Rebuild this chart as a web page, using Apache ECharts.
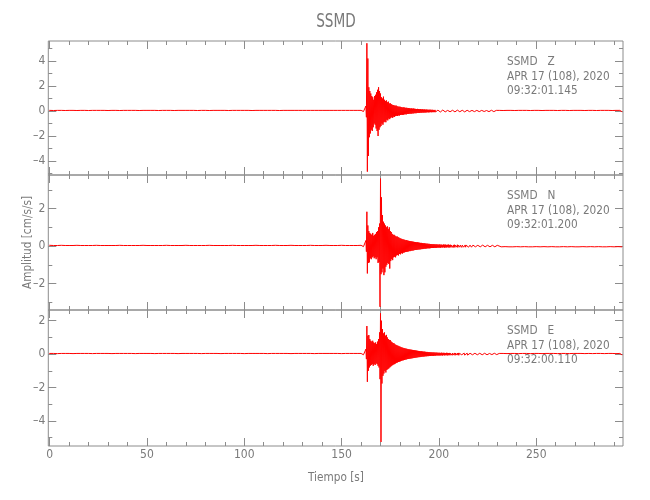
<!DOCTYPE html>
<html><head><meta charset="utf-8">
<script src="https://cdn.jsdelivr.net/npm/echarts@6.0.0/dist/echarts.min.js"></script>
<style>html,body{margin:0;padding:0;background:#fff}#c{width:650px;height:500px}</style>
</head><body><div id="c"></div>
<script>
// ---------------- data ----------------
const TITLE = 'SSMD';
const STATION = 'SSMD';
const CHANNELS = ['Z', 'N', 'E'];
const DATE_LINE = 'APR 17 (108), 2020';
const START_TIMES = ['09:32:01.145', '09:32:01.200', '09:32:00.110'];
const X_LABEL = 'Tiempo [s]';
const Y_LABEL = 'Amplitud [cm/s/s]';

const X_TICKS = [0, 50, 100, 150, 200, 250];
const X_MINOR = [0,10,20,30,40,50,60,70,80,90,100,110,120,130,140,150,160,170,180,190,200,210,220,230,240,250,260,270,280,290];
const Y_TICKS = [[-4,-2,0,2,4], [-2,0,2], [-4,-2,0,2]];
const Y_MINOR = [[-5,-4,-3,-2,-1,0,1,2,3,4,5], [-3,-2,-1,0,1,2,3], [-5,-4,-3,-2,-1,0,1,2]];
const Y_RANGE = [[-5.12, 5.6], [-3.41, 3.79], [-5.5, 2.64]];
const X_RANGE = [-0.7, 294.6];

// pre-event noise envelope (half-width), one value every 2 s from 0 s
const PRE_Z = [0.05,0.04,0.05,0.05,0.04,0.05,0.05,0.04,0.05,0.05, 0.04,0.05,0.05,0.05,0.05,0.04,0.05,0.05,0.04,0.05, 0.05,0.05,0.05,0.04,0.05,0.05,0.05,0.05,0.04,0.05, 0.05,0.05,0.04,0.05,0.05,0.05,0.05,0.05,0.04,0.05, 0.05,0.04,0.05,0.05,0.05,0.05,0.04,0.05,0.05,0.05, 0.05,0.05,0.04,0.05,0.05,0.05,0.05,0.05,0.05,0.04, 0.05,0.05,0.05,0.05,0.05,0.05,0.05,0.05,0.05,0.05, 0.05,0.05,0.05,0.05,0.05,0.05,0.05,0.05,0.05,0.05];
const PRE_N = [0.04,0.03,0.03,0.04,0.03,0.03,0.03,0.04,0.03,0.03, 0.03,0.03,0.04,0.03,0.03,0.03,0.03,0.03,0.04,0.03, 0.03,0.03,0.03,0.03,0.04,0.03,0.03,0.03,0.03,0.03, 0.04,0.03,0.03,0.03,0.03,0.04,0.03,0.03,0.03,0.03, 0.03,0.04,0.03,0.03,0.03,0.03,0.03,0.04,0.03,0.03, 0.03,0.03,0.03,0.04,0.03,0.03,0.03,0.03,0.04,0.03, 0.03,0.03,0.04,0.03,0.03,0.03,0.03,0.04,0.03,0.03, 0.03,0.04,0.03,0.03,0.03,0.04,0.03,0.03,0.03,0.03];
const PRE_E = [0.04,0.04,0.03,0.04,0.04,0.04,0.03,0.04,0.04,0.04, 0.04,0.03,0.04,0.04,0.04,0.04,0.03,0.04,0.04,0.04, 0.04,0.04,0.03,0.04,0.04,0.04,0.04,0.03,0.04,0.04, 0.04,0.04,0.04,0.03,0.04,0.04,0.04,0.04,0.04,0.03, 0.04,0.04,0.04,0.04,0.03,0.04,0.04,0.04,0.04,0.04, 0.03,0.04,0.04,0.04,0.04,0.04,0.03,0.04,0.04,0.04, 0.04,0.04,0.03,0.04,0.04,0.04,0.04,0.04,0.03,0.04, 0.04,0.04,0.04,0.04,0.04,0.03,0.04,0.04,0.04,0.04];

// active window envelope, one bin every 0.5 s from 160 s to 200 s (upper / lower)
const Z_UP = [0.05,0.04,0.05,0.05,0.06, 0.4,5.42,4.2,1.9,1.6, 1.4,1.2,1.1,0.9,1.2, 1.3,1.5,1.7,1.9,1.6, 1.4,1.1,1.0,1.15,0.9, 0.8,0.85,0.7,0.75,0.6, 0.62,0.55,0.5,0.48,0.45, 0.42,0.44,0.38,0.36,0.34, 0.35,0.32,0.3,0.28,0.3, 0.27,0.25,0.26,0.23,0.24, 0.22,0.2,0.21,0.19,0.2, 0.18,0.17,0.16,0.17,0.15, 0.14,0.15,0.13,0.14,0.12, 0.13,0.11,0.12,0.11,0.1, 0.1,0.11,0.09,0.1,0.09, 0.08,0.09,0.08,0.08,0.07, 0.08];
const Z_LO = [-0.05,-0.05,-0.04,-0.06,-0.05, -0.5,-4.85,-3.6,-2.1,-1.8, -1.5,-1.6,-1.3,-1.0,-1.1, -1.4,-1.6,-2.0,-1.5,-1.3, -1.2,-1.0,-1.1,-0.9,-0.85, -0.9,-0.7,-0.75,-0.6,-0.65, -0.55,-0.5,-0.55,-0.45,-0.48, -0.4,-0.38,-0.4,-0.35,-0.36, -0.32,-0.3,-0.31,-0.3,-0.27, -0.26,-0.27,-0.24,-0.24,-0.22, -0.21,-0.22,-0.19,-0.2,-0.18, -0.17,-0.18,-0.16,-0.15,-0.16, -0.15,-0.13,-0.14,-0.12,-0.13, -0.12,-0.12,-0.11,-0.1,-0.11, -0.1,-0.09,-0.1,-0.09,-0.09, -0.09,-0.08,-0.08,-0.07,-0.08, -0.07];
const N_UP = [0.04,0.03,0.04,0.03,0.04, 0.3,1.83,1.1,0.8,0.7, 0.65,0.6,0.7,0.55,0.6, 0.65,0.75,0.8,1.0,1.2, 3.6,2.6,1.65,1.3,1.2, 1.1,1.0,1.05,0.9,1.0, 0.8,0.75,0.65,0.6,0.6, 0.55,0.5,0.52,0.48,0.45, 0.42,0.4,0.38,0.36,0.35, 0.33,0.31,0.32,0.29,0.28, 0.27,0.26,0.25,0.24,0.23, 0.22,0.21,0.2,0.2,0.19, 0.18,0.17,0.17,0.16,0.15, 0.15,0.14,0.13,0.13,0.12, 0.12,0.11,0.11,0.1,0.1, 0.1,0.09,0.09,0.09,0.08, 0.08];
const N_LO = [-0.03,-0.04,-0.03,-0.04,-0.03, -0.3,-1.46,-0.9,-0.87,-0.65, -0.7,-0.6,-0.55,-0.65,-0.6, -0.7,-0.6,-0.9,-0.85,-3.24, -1.5,-1.4,-1.2,-1.55,-1.4, -1.1,-1.0,-0.9,-0.95,-1.2, -0.8,-0.7,-0.75,-0.6,-0.57, -0.6,-0.5,-0.48,-0.5,-0.42, -0.44,-0.38,-0.4,-0.35,-0.34, -0.32,-0.31,-0.3,-0.29,-0.27, -0.27,-0.25,-0.24,-0.24,-0.22, -0.21,-0.21,-0.2,-0.19,-0.18, -0.18,-0.17,-0.16,-0.16,-0.15, -0.14,-0.14,-0.13,-0.12,-0.12, -0.12,-0.11,-0.1,-0.1,-0.1, -0.09,-0.09,-0.09,-0.08,-0.08, -0.08];
const E_UP = [0.04,0.04,0.03,0.04,0.04, 0.3,1.68,1.1,1.14,0.9, 0.8,0.75,0.8,0.7,0.65, 0.7,0.6,0.75,0.9,1.3, 2.44,2.0,1.5,1.24,1.3, 1.1,1.15,1.0,0.9,0.85, 0.84,0.75,0.7,0.66,0.64, 0.58,0.55,0.52,0.5,0.47, 0.45,0.42,0.4,0.38,0.36, 0.35,0.33,0.32,0.3,0.29, 0.28,0.27,0.26,0.25,0.24, 0.23,0.22,0.21,0.2,0.19, 0.18,0.17,0.17,0.16,0.15, 0.15,0.14,0.13,0.13,0.12, 0.12,0.11,0.11,0.1,0.1, 0.1,0.09,0.09,0.09,0.08, 0.08];
const E_LO = [-0.04,-0.03,-0.04,-0.04,-0.04, -0.3,-1.66,-1.0,-0.8,-0.7, -0.65,-0.6,-0.7,-0.6,-0.65, -0.55,-0.6,-0.7,-0.8,-1.5, -5.26,-1.76,-1.3,-1.16,-1.0, -1.1,-0.95,-0.9,-0.86,-0.8, -0.75,-0.7,-0.66,-0.62,-0.6, -0.56,-0.52,-0.5,-0.47,-0.45, -0.43,-0.4,-0.38,-0.37,-0.35, -0.33,-0.32,-0.3,-0.29,-0.28, -0.27,-0.26,-0.25,-0.24,-0.23, -0.22,-0.21,-0.2,-0.19,-0.18, -0.18,-0.17,-0.16,-0.15,-0.15, -0.14,-0.13,-0.13,-0.12,-0.12, -0.11,-0.11,-0.1,-0.1,-0.1, -0.09,-0.09,-0.08,-0.08,-0.08, -0.08];

// early coda envelope (half-width), one value every 0.5 s from 200.5 s
const CODA_Z = [0.08,0.06,0.07,0.08,0.05,0.07,0.06,0.08,0.05,0.07, 0.06,0.05,0.07,0.06,0.05,0.07,0.04,0.06,0.07,0.05, 0.06,0.05,0.04,0.06,0.05,0.07,0.05,0.04,0.06,0.05, 0.05,0.06,0.04,0.05,0.06,0.05,0.04,0.06,0.05,0.04, 0.05,0.06,0.04,0.05,0.05,0.04,0.06,0.05,0.04,0.05, 0.05,0.04,0.05,0.06,0.04,0.05,0.04,0.05,0.05,0.04];
const CODA_N = [0.09,0.07,0.08,0.06,0.09,0.07,0.08,0.06,0.07,0.08, 0.06,0.07,0.05,0.08,0.06,0.07,0.05,0.06,0.07,0.05, 0.06,0.05,0.07,0.05,0.06,0.04,0.06,0.05,0.05,0.06, 0.04,0.05,0.06,0.04,0.05,0.05,0.04,0.05,0.06,0.04, 0.05,0.04,0.05,0.04,0.05,0.04,0.04,0.05,0.04,0.04, 0.05,0.04,0.04,0.03,0.04,0.05,0.04,0.03,0.04,0.04];
const CODA_E = [0.08,0.07,0.09,0.06,0.08,0.07,0.06,0.08,0.07,0.06, 0.07,0.05,0.07,0.06,0.05,0.07,0.06,0.05,0.06,0.07, 0.05,0.06,0.04,0.06,0.05,0.06,0.04,0.05,0.06,0.05, 0.04,0.05,0.06,0.04,0.05,0.04,0.05,0.05,0.04,0.05, 0.04,0.05,0.04,0.04,0.05,0.04,0.05,0.04,0.04,0.05, 0.04,0.04,0.05,0.03,0.04,0.04,0.05,0.04,0.03,0.04];
// late noise envelope (half-width), one value every 2 s from 231 s
const TAIL_Z = [0.05,0.04,0.05,0.05,0.04,0.05,0.05,0.05,0.04,0.05, 0.05,0.04,0.05,0.05,0.05,0.04,0.05,0.05,0.04,0.05, 0.05,0.05,0.04,0.05,0.05,0.04,0.05,0.05,0.05,0.04, 0.05,0.05];
const TAIL_N = [0.04,0.03,0.04,0.04,0.03,0.04,0.03,0.04,0.04,0.03, 0.04,0.03,0.04,0.03,0.04,0.04,0.03,0.04,0.03,0.04, 0.04,0.03,0.04,0.03,0.04,0.03,0.04,0.04,0.03,0.04, 0.03,0.04];
const TAIL_E = [0.04,0.04,0.03,0.04,0.04,0.03,0.04,0.04,0.03,0.04, 0.04,0.03,0.04,0.04,0.04,0.03,0.04,0.04,0.03,0.04, 0.04,0.04,0.03,0.04,0.03,0.04,0.04,0.03,0.04,0.04, 0.03,0.04];

const PRE_T0 = 0, PRE_DT = 2;
const ACT_T0 = 160, ACT_DT = 0.5;
const CODA_T0 = 200.5, CODA_DT = 0.5;
const TAIL_T0 = 231, TAIL_DT = 2;

// ---------------- build ----------------
function pushSym(pts, arr, t0, dt) {
  arr.forEach((a, i) => { const t = t0 + i * dt; pts.push([t, a]); pts.push([t + dt / 2, -a]); });
}
function buildTrace(pre, up, lo, coda, tail) {
  const pts = [];
  pushSym(pts, pre, PRE_T0, PRE_DT);
  up.forEach((u, i) => { const t = ACT_T0 + i * ACT_DT; pts.push([t, u]); pts.push([t + ACT_DT / 2, lo[i]]); });
  pushSym(pts, coda, CODA_T0, CODA_DT);
  pushSym(pts, tail, TAIL_T0, TAIL_DT);
  return pts;
}
const TRACES = [
  buildTrace(PRE_Z, Z_UP, Z_LO, CODA_Z, TAIL_Z),
  buildTrace(PRE_N, N_UP, N_LO, CODA_N, TAIL_N),
  buildTrace(PRE_E, E_UP, E_LO, CODA_E, TAIL_E)
];

const FONT = "'Liberation Sans Narrow','DejaVu Sans Condensed',sans-serif";
const TXT = '#7a7a7a';
const AX = '#8c8c8c';
const GRIDS = [
  { top: 41, height: 134 },
  { top: 175, height: 135 },
  { top: 310, height: 136 }
];
const LEFT = 48.3, RIGHT = 650 - 623;

const grid = [], xAxis = [], yAxis = [], series = [], graphic = [];
const minus = v => String(v).replace('-', '\u2013');

GRIDS.forEach((g, gi) => {
  grid.push({ left: LEFT, right: RIGHT, top: g.top, height: g.height, show: true, borderColor: AX, borderWidth: 1, backgroundColor: 'transparent' });
  const xBase = xAxis.length;
  [['bottom', X_TICKS, 8, gi === 2], ['bottom', X_MINOR, 4, false], ['top', X_TICKS, 8, false], ['top', X_MINOR, 4, false]].forEach(([pos, ticks, len, lab]) => {
    xAxis.push({
      gridIndex: gi, type: 'value', position: pos, min: X_RANGE[0], max: X_RANGE[1],
      axisLine: { show: false, onZero: false }, splitLine: { show: false },
      axisTick: { show: true, inside: true, length: len, customValues: ticks, lineStyle: { color: AX, width: 1 } },
      axisLabel: { show: lab, customValues: ticks, margin: 3, color: TXT, fontFamily: FONT, fontSize: 12 }
    });
  });
  const yBase = yAxis.length;
  [['left', Y_TICKS[gi], 8, true], ['left', Y_MINOR[gi], 4, false], ['right', Y_TICKS[gi], 8, false], ['right', Y_MINOR[gi], 4, false]].forEach(([pos, ticks, len, lab]) => {
    yAxis.push({
      gridIndex: gi, type: 'value', position: pos, min: Y_RANGE[gi][0], max: Y_RANGE[gi][1],
      axisLine: { show: false, onZero: false }, splitLine: { show: false },
      axisTick: { show: true, inside: true, length: len, customValues: ticks, lineStyle: { color: AX, width: 1 } },
      axisLabel: { show: lab, customValues: ticks, margin: 3, color: TXT, fontFamily: FONT, fontSize: 12, formatter: minus }
    });
  });
  series.push({
    type: 'line', xAxisIndex: xBase, yAxisIndex: yBase, data: TRACES[gi],
    showSymbol: false, symbol: 'none', silent: true, clip: true,
    lineStyle: { color: '#ff0000', width: 1, join: 'round', cap: 'round' }
  });
  const lines = [STATION + '   ' + CHANNELS[gi], DATE_LINE, START_TIMES[gi]];
  lines.forEach((s, li) => {
    graphic.push({ type: 'text', x: 507, y: g.top + 20.5 + li * 14.7, scaleX: 0.9, style: { text: s, fill: TXT, font: '13px ' + FONT, textVerticalAlign: 'middle', textAlign: 'left' } });
  });
});

graphic.push({ type: 'text', x: 336, y: 22, scaleX: 0.8, style: { text: TITLE, fill: TXT, font: '19px ' + FONT, textAlign: 'center', textVerticalAlign: 'middle' } });
graphic.push({ type: 'text', x: 336, y: 478, scaleX: 0.9, style: { text: X_LABEL, fill: TXT, font: '13px ' + FONT, textAlign: 'center', textVerticalAlign: 'middle' } });
graphic.push({ type: 'text', x: 28, y: 242.5, rotation: Math.PI / 2, scaleX: 0.9, style: { text: Y_LABEL, fill: TXT, font: '13px ' + FONT, textAlign: 'center', textVerticalAlign: 'middle' } });

const chart = echarts.init(document.getElementById('c'), null, { renderer: 'canvas' });
chart.setOption({ animation: false, backgroundColor: '#fff', grid, xAxis, yAxis, series, graphic });

// let the polylines keep every sub-pixel segment of the dense trace
try {
  const zr = chart.getZr();
  zr.storage.getDisplayList(true).forEach(el => {
    if (el.type === 'ec-polyline') {
      el.segmentIgnoreThreshold = 0;
      if (el.dirtyShape) el.dirtyShape();
      if (el.markRedraw) el.markRedraw();
    }
  });
  zr.refreshImmediately();
} catch (e) {}
</script>
</body></html>
